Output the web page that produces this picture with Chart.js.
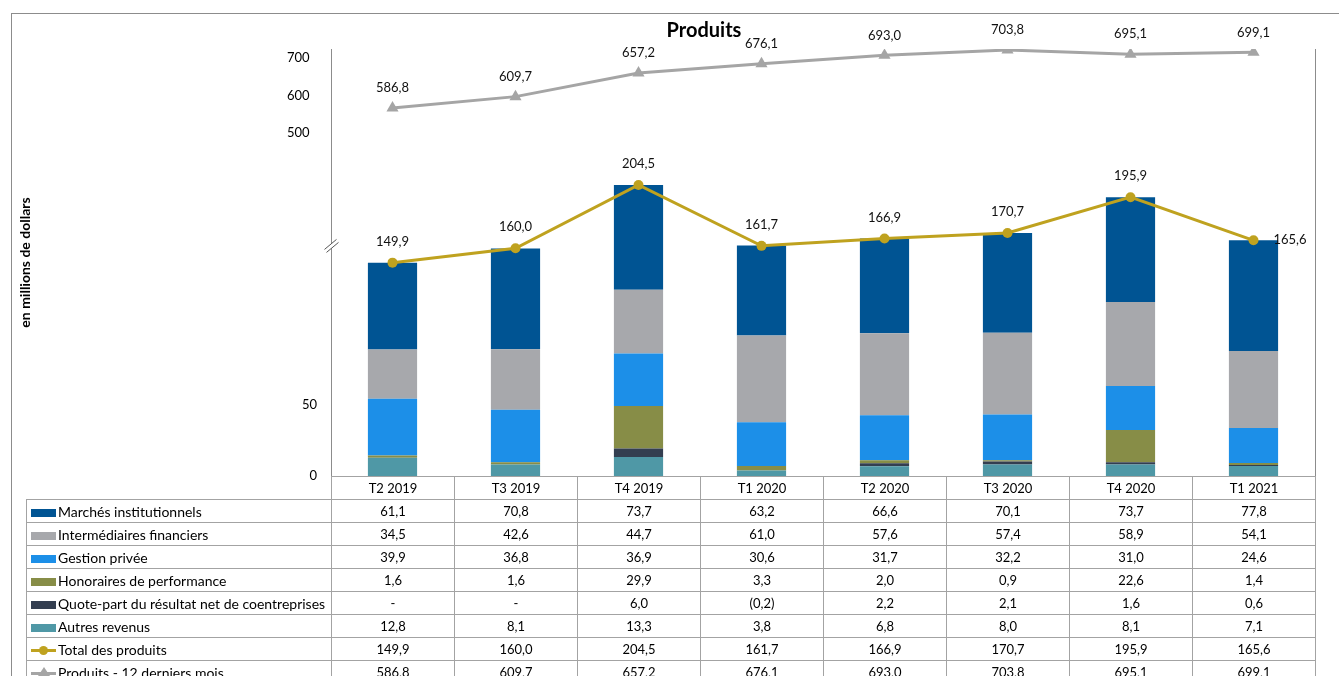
<!DOCTYPE html>
<html lang="fr">
<head>
<meta charset="utf-8">
<title>Produits</title>
<script src="https://cdn.jsdelivr.net/npm/chart.js@4.4.1/dist/chart.umd.min.js"></script>
<style>
  html, body { margin: 0; padding: 0; background: #fff; }
  #wrap { position: relative; width: 1339px; height: 676px; overflow: hidden; font-family: Lato, "Open Sans", sans-serif; }
  #frame { position: absolute; left: 11px; top: 13px; width: 1340px; height: 700px; border: 1px solid #8c8c8c; box-sizing: border-box; }
  #chart { position: absolute; left: 0; top: 0; }
  #title { position: absolute; left: 0; width: 1408px; top: 17px; text-align: center; font: bold 20px Lato, sans-serif; color: #000; }
  #tbl { position: absolute; left: 26px; top: 476px; border-collapse: collapse; table-layout: fixed; font-size: 13px; color: #000; }
  #tbl td { height: 22px; padding: 0; border: 1px solid #a3a3a3; text-align: center; white-space: nowrap; }
  #tbl td.name { text-align: left; padding-left: 4px; font-size: 14px; }
  #tbl tr.head td.blank { border-top: none; border-left: none; }
  .sw { display: inline-block; width: 25px; height: 8px; margin-right: 2px; vertical-align: 0px; }
  .ln { display: inline-block; position: relative; width: 25px; height: 3px; margin-right: 2px; vertical-align: 3px; }
  .ln i { position: absolute; left: 8px; top: -3px; width: 9px; height: 9px; border-radius: 50%; }
  .ln b { position: absolute; left: 7px; top: -5px; width: 0; height: 0; border-left: 6px solid transparent; border-right: 6px solid transparent; border-bottom: 9px solid #a5a5a5; }
</style>
</head>
<body>
<div id="wrap">
  <div id="frame"></div>
  <canvas id="chart" width="1339" height="676"></canvas>
  <div id="title">Produits</div>
  <table id="tbl"></table>
</div>
<script>
/* =========================
   DATA
========================= */
const categories = ["T2 2019", "T3 2019", "T4 2019", "T1 2020", "T2 2020", "T3 2020", "T4 2020", "T1 2021"];

const marchesInstitutionnels = [61.1, 70.8, 73.7, 63.2, 66.6, 70.1, 73.7, 77.8];
const intermediairesFinanciers = [34.5, 42.6, 44.7, 61.0, 57.6, 57.4, 58.9, 54.1];
const gestionPrivee = [39.9, 36.8, 36.9, 30.6, 31.7, 32.2, 31.0, 24.6];
const honorairesPerformance = [1.6, 1.6, 29.9, 3.3, 2.0, 0.9, 22.6, 1.4];
const quotePartCoentreprises = [null, null, 6.0, -0.2, 2.2, 2.1, 1.6, 0.6];
const autresRevenus = [12.8, 8.1, 13.3, 3.8, 6.8, 8.0, 8.1, 7.1];
const totalProduits = [149.9, 160.0, 204.5, 161.7, 166.9, 170.7, 195.9, 165.6];
const produits12Mois = [586.8, 609.7, 657.2, 676.1, 693.0, 703.8, 695.1, 699.1];

const lowerTicks = [0, 50];
const upperTicks = [500, 600, 700];

const C = {
  marches: "#005493",
  inter: "#a7a8ac",
  gestion: "#1c8fe8",
  honoraires: "#878d47",
  quote: "#333e50",
  autres: "#4f98a6",
  total: "#bfa21f",
  douze: "#a5a5a5",
  axis: "#8c8c8c"
};

const fmt = v => {
  if (v === null) return "-";
  const s = Math.abs(v).toFixed(1).replace(".", ",");
  return v < 0 ? "(" + s + ")" : s;
};

/* =========================
   TABLE
========================= */
const rows = [
  { label: "Marchés institutionnels", data: marchesInstitutionnels, color: C.marches, kind: "bar" },
  { label: "Intermédiaires financiers", data: intermediairesFinanciers, color: C.inter, kind: "bar" },
  { label: "Gestion privée", data: gestionPrivee, color: C.gestion, kind: "bar" },
  { label: "Honoraires de performance", data: honorairesPerformance, color: C.honoraires, kind: "bar" },
  { label: "Quote-part du résultat net de coentreprises", data: quotePartCoentreprises, color: C.quote, kind: "bar" },
  { label: "Autres revenus", data: autresRevenus, color: C.autres, kind: "bar" },
  { label: "Total des produits", data: totalProduits, color: C.total, kind: "circle" },
  { label: "Produits - 12 derniers mois", data: produits12Mois, color: C.douze, kind: "triangle" }
];

function buildTable() {
  let html = '<colgroup><col style="width:305px">' +
    categories.map(() => '<col style="width:123px">').join("") + "</colgroup>";
  html += '<tr class="head"><td class="blank"></td>' +
    categories.map(c => "<td>" + c + "</td>").join("") + "</tr>";
  rows.forEach(r => {
    let key;
    if (r.kind === "bar") key = '<span class="sw" style="background:' + r.color + '"></span>';
    else if (r.kind === "circle") key = '<span class="ln" style="background:' + r.color + '"><i style="background:' + r.color + '"></i></span>';
    else key = '<span class="ln" style="background:' + r.color + '"><b></b></span>';
    html += '<tr><td class="name">' + key + r.label + "</td>" +
      r.data.map(v => "<td>" + fmt(v) + "</td>").join("") + "</tr>";
  });
  document.getElementById("tbl").innerHTML = html;
}
buildTable();

/* =========================
   PLUGINS
========================= */
const valueLabels = {
  id: "valueLabels",
  afterDatasetsDraw(chart) {
    const ctx = chart.ctx;
    ctx.save();
    ctx.font = "13px Lato, sans-serif";
    ctx.fillStyle = "#111";
    ctx.textBaseline = "middle";
    chart.data.datasets.forEach((ds, i) => {
      if (ds.type !== "line") return;
      const pts = chart.getDatasetMeta(i).data;
      pts.forEach((pt, j) => {
        const txt = fmt(ds.data[j]);
        if (ds.lastLabelRight && j === pts.length - 1) {
          ctx.textAlign = "left";
          ctx.fillText(txt, pt.x + 20, pt.y);
        } else {
          ctx.textAlign = "center";
          ctx.fillText(txt, pt.x, pt.y - ds.labelGap);
        }
      });
    });
    ctx.restore();
  }
};

const plotDecor = {
  id: "plotDecor",
  afterDraw(chart) {
    const { ctx, chartArea } = chart;
    const y = chart.scales.y;
    ctx.save();
    // right edge of plot
    ctx.strokeStyle = C.axis;
    ctx.lineWidth = 1;
    ctx.beginPath();
    ctx.moveTo(chartArea.right + 0.5, chartArea.top);
    ctx.lineTo(chartArea.right + 0.5, chartArea.bottom);
    ctx.stroke();
    // axis break mark
    const bx = chartArea.left + 0.5;
    const by = y.getPixelForValue(162);
    ctx.fillStyle = "#fff";
    ctx.beginPath();
    ctx.moveTo(bx - 7, by + 4);
    ctx.lineTo(bx + 5, by - 6);
    ctx.lineTo(bx + 7, by - 3);
    ctx.lineTo(bx - 5, by + 7);
    ctx.closePath();
    ctx.fill();
    ctx.strokeStyle = "#555";
    ctx.beginPath();
    ctx.moveTo(bx - 7, by + 4);
    ctx.lineTo(bx + 5, by - 6);
    ctx.moveTo(bx - 5, by + 7);
    ctx.lineTo(bx + 7, by - 3);
    ctx.stroke();
    ctx.restore();
  }
};

/* =========================
   CHART
========================= */
const barSet = (label, data, color) => ({
  type: "bar", label, data, backgroundColor: color, borderWidth: 0,
  yAxisID: "y", stack: "produits", order: 2,
  barPercentage: 0.4, categoryPercentage: 1
});

new Chart(document.getElementById("chart"), {
  data: {
    labels: categories,
    datasets: [
      {
        type: "line", label: "Total des produits", data: totalProduits,
        borderColor: C.total, backgroundColor: C.total, borderWidth: 3,
        pointRadius: 5, pointBorderWidth: 0, pointBackgroundColor: C.total,
        tension: 0, yAxisID: "y", stack: "total", order: 1,
        labelGap: 21, lastLabelRight: true
      },
      {
        type: "line", label: "Produits - 12 derniers mois", data: produits12Mois,
        borderColor: C.douze, backgroundColor: C.douze, borderWidth: 3,
        pointStyle: "triangle", pointRadius: 7, pointBorderWidth: 0, pointBackgroundColor: C.douze,
        tension: 0, yAxisID: "y2", order: 1,
        labelGap: 20
      },
      barSet("Autres revenus", autresRevenus, C.autres),
      barSet("Quote-part du résultat net de coentreprises", quotePartCoentreprises, C.quote),
      barSet("Honoraires de performance", honorairesPerformance, C.honoraires),
      barSet("Gestion privée", gestionPrivee, C.gestion),
      barSet("Intermédiaires financiers", intermediairesFinanciers, C.inter),
      barSet("Marchés institutionnels", marchesInstitutionnels, C.marches)
    ]
  },
  options: {
    responsive: false,
    animation: false,
    layout: { padding: { left: 11, right: 24, top: 49, bottom: 200 } },
    plugins: { legend: { display: false }, tooltip: { enabled: false } },
    scales: {
      x: { type: "category", stacked: true, display: false },
      y: {
        type: "linear", position: "left", stacked: true, min: 0, max: 300, weight: 0,
        grid: { display: false, drawTicks: false },
        border: { display: true, color: C.axis, width: 1 },
        afterBuildTicks: s => { s.ticks = lowerTicks.map(v => ({ value: v })); },
        afterFit: s => { s.width = 44; },
        ticks: { padding: 14, color: "#000", font: { family: "Lato", size: 13 } }
      },
      yLbl: {
        type: "linear", position: "left", min: -414.7, max: 724, weight: 1,
        grid: { display: false, drawTicks: false },
        border: { display: false },
        afterBuildTicks: s => { s.ticks = upperTicks.map(v => ({ value: v })); },
        afterFit: s => { s.width = 276; },
        ticks: { mirror: true, padding: 0, color: "#000", font: { family: "Lato", size: 13 } },
        title: {
          display: true, text: "en millions de dollars", color: "#000",
          font: { family: "Lato", size: 14, weight: "bold" }, padding: { top: 6, bottom: 0 }
        }
      },
      y2: { type: "linear", display: false, min: -155.6, max: 705.8 }
    }
  },
  plugins: [valueLabels, plotDecor]
});
</script>
</body>
</html>
